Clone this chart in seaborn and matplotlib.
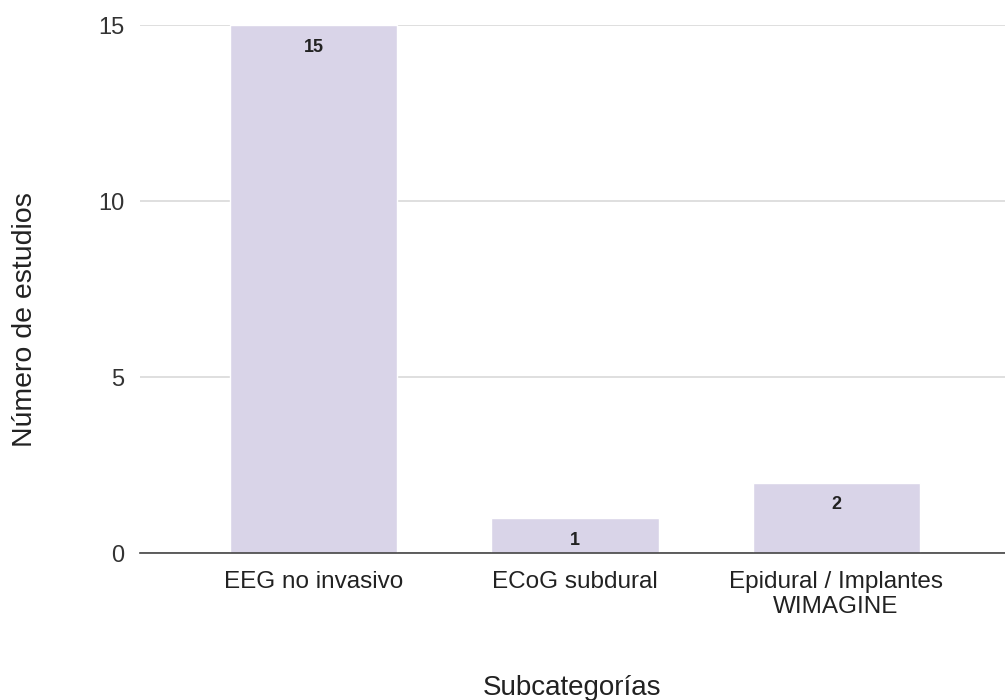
import matplotlib
matplotlib.use("Agg")
import matplotlib.pyplot as plt
import seaborn as sns
import pandas as pd

categories = ["EEG no invasivo", "ECoG subdural", "Epidural / Implantes\nWIMAGINE"]
values = [15, 1, 2]
yticks = [0, 5, 10, 15]

sns.set_theme(style="white")
plt.rcParams['font.family'] = ['Liberation Sans', 'DejaVu Sans']

df = pd.DataFrame({"cat": categories, "val": values})

fig = plt.figure(figsize=(10.05, 7), dpi=100)
ax = fig.add_axes([0.139, 0.21, 0.861, 0.754])

sns.barplot(data=df, x="cat", y="val", color="#d9d4e8", width=0.64,
            saturation=1, ax=ax, zorder=3)

ax.set_xlim(-0.667, 2.647)
ax.set_ylim(0, 15)
ax.set_yticks(yticks)
ax.set_yticklabels([str(t) for t in yticks], fontsize=17, color="#333333")
ax.tick_params(axis="x", labelsize=17.5, colors="#222222", length=0, pad=13)
ax.tick_params(axis="y", length=0, pad=11)
for lbl in ax.get_xticklabels():
    lbl.set_linespacing(1.15)
ax.grid(axis="y", color="#d9d9d9", linewidth=1.2, zorder=0)
for s in ["top", "right", "left"]:
    ax.spines[s].set_visible(False)
ax.spines["bottom"].set_color("#444444")
ax.spines["bottom"].set_linewidth(1.2)
ax.spines["bottom"].set_zorder(5)

for i, v in enumerate(values):
    ax.annotate(str(v), xy=(i, v), xytext=(0, -16), textcoords="offset points",
                ha="center", va="center", fontsize=13, fontweight="bold",
                color="#222222", zorder=6)

ax.set_xlabel("Subcategorías", fontsize=20, color="#222222", labelpad=41)
ax.set_ylabel("Número de estudios", fontsize=20.5, color="#222222", labelpad=43)
ax.yaxis.label.set_y(0.443)

fig.savefig("out.png", dpi=100)
